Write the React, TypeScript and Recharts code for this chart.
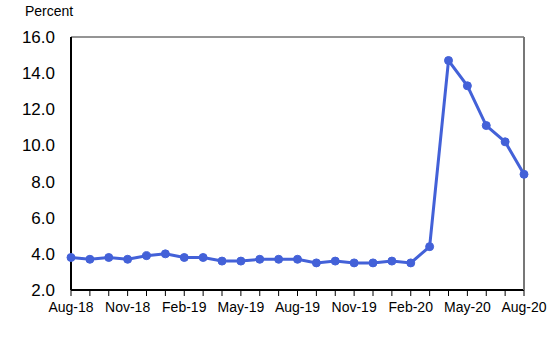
import React from "react"
import {
  LineChart,
  Line,
  XAxis,
  YAxis,
  CartesianGrid,
} from "recharts"

// Monthly unemployment rate, Aug-18 .. Aug-20
const months = [
  "Aug-18", "Sep-18", "Oct-18", "Nov-18", "Dec-18", "Jan-19", "Feb-19", "Mar-19", "Apr-19",
  "May-19", "Jun-19", "Jul-19", "Aug-19", "Sep-19", "Oct-19", "Nov-19", "Dec-19", "Jan-20",
  "Feb-20", "Mar-20", "Apr-20", "May-20", "Jun-20", "Jul-20", "Aug-20",
]
const rates = [
  3.8, 3.7, 3.8, 3.7, 3.9, 4.0, 3.8, 3.8, 3.6,
  3.6, 3.7, 3.7, 3.7, 3.5, 3.6, 3.5, 3.5, 3.6,
  3.5, 4.4, 14.7, 13.3, 11.1, 10.2, 8.4,
]
const yTicks = [2, 4, 6, 8, 10, 12, 14, 16]
const labelled = ["Aug-18", "Nov-18", "Feb-19", "May-19", "Aug-19", "Nov-19", "Feb-20", "May-20", "Aug-20"]

const data = months.map((m, i) => ({ month: m, rate: rates[i] }))

const FONT = "'Liberation Sans', Arial, sans-serif"
const BLUE = "#4361d8"

export default function App() {
  return (
    <div style={{ position: "absolute", left: 0, top: 0, width: 557, height: 358, background: "#fff", fontFamily: FONT }}>
      <div style={{ position: "absolute", left: 25, top: 3, fontSize: 14, color: "#000" }}>Percent</div>
      <LineChart
        width={557}
        height={358}
        data={data}
        margin={{ top: 37, right: 0, bottom: 0, left: 0 }}
      >
        <CartesianGrid vertical={false} stroke="#2b2b2b" strokeWidth={1} horizontal={{ shapeRendering: "crispEdges" }} />
        <XAxis
          dataKey="month"
          ticks={months}
          interval={0}
          tickFormatter={(m: string) => (labelled.includes(m) ? m : "")}
          tick={{ fill: "#000", fontSize: 14, fontFamily: FONT }}
          tickSize={6}
          tickMargin={6}
          axisLine={{ stroke: "#000", strokeWidth: 2 }}
          tickLine={{ stroke: "#000" }}
          height={68}
        />
        <YAxis
          yAxisId="left"
          domain={[2, 16]}
          ticks={yTicks}
          tickFormatter={(v: number) => v.toFixed(1)}
          tick={{ fill: "#000", fontSize: 17, fontFamily: FONT }}
          tickLine={false}
          tickSize={0}
          tickMargin={16}
          axisLine={{ stroke: "#000", strokeWidth: 2 }}
          width={71}
        />
        <YAxis
          yAxisId="right"
          orientation="right"
          domain={[2, 16]}
          ticks={yTicks}
          tick={false}
          tickLine={false}
          axisLine={{ stroke: "#777", strokeWidth: 2 }}
          width={33}
        />
        <Line
          yAxisId="left"
          type="linear"
          dataKey="rate"
          stroke={BLUE}
          strokeWidth={3}
          dot={{ r: 4, fill: BLUE, stroke: BLUE, strokeWidth: 1 }}
          isAnimationActive={false}
        />
      </LineChart>
    </div>
  )
}
